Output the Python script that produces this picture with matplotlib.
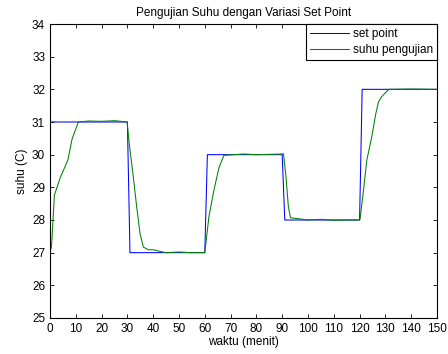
import numpy as np
import matplotlib
matplotlib.use('Agg')
import matplotlib.pyplot as plt

plt.rcParams['font.family'] = ['Liberation Sans', 'DejaVu Sans']

# set point (menit, C)
sp_t = [0, 30, 31, 60, 61, 90, 91, 120, 121, 150]
sp_v = [31, 31, 27, 27, 30, 30, 28, 28, 32, 32]

# suhu pengujian
uji_t = [0, 0.6, 1.7, 4, 6.9, 8.6, 11, 15, 20, 25, 29.9, 30.7, 32.3, 33.6, 34.9, 36.2,
         38.1, 40.1, 42, 45, 50, 55, 60, 61.6, 63.5, 65.5, 67.4, 75, 80, 85,
         90, 90.5, 91.5, 92.4, 93.2, 100, 105, 110, 115, 120, 120.2, 121.5, 122.8,
         124.7, 126.3, 127.3, 128.5, 131.3, 140, 150]
uji_v = [27, 27.2, 28.76, 29.3, 29.83, 30.49, 31, 31.03, 31.02, 31.04, 31.0, 30.34,
         29.32, 28.4, 27.58, 27.17, 27.09, 27.09, 27.05, 27.0, 27.02, 27.0, 27.0, 28.1,
         28.9, 29.6, 29.98, 30.02, 30.0, 30.01, 30.02, 30.03, 29.3, 28.4, 28.07,
         28.0, 28.02, 27.99, 28.0, 28.0, 28.04, 28.9, 29.83, 30.54, 31.26, 31.61, 31.77,
         32.0, 32.01, 32.0]

fig = plt.figure(figsize=(4.48, 3.54), dpi=100)
ax = fig.add_axes([0.1116, 0.1017, 0.8638, 0.8305])
ax.plot(sp_t, sp_v, color='#0000ff', lw=0.75, label='set point')
ax.plot(uji_t, uji_v, color='#008000', lw=0.75, label='suhu pengujian')

ax.set_xlim(0, 150)
ax.set_ylim(25, 34)
ax.set_xticks(np.arange(0, 151, 10))
ax.set_yticks(np.arange(25, 35, 1))
ax.tick_params(direction='in', top=True, right=True, labelsize=8.5, length=3, width=0.6)
for s in ax.spines.values():
    s.set_linewidth(0.8)

ax.set_title('Pengujian Suhu dengan Variasi Set Point', fontsize=8.5)
ax.set_xlabel('waktu (menit)', fontsize=8.5, labelpad=1)
ax.set_ylabel('suhu (C)', fontsize=8.5, labelpad=3)

leg = ax.legend(loc='upper right', fontsize=8.5, fancybox=False, framealpha=1,
                edgecolor='black', borderaxespad=0, handlelength=3.3,
                borderpad=0.35, labelspacing=0.3, handletextpad=0.3)
leg.get_frame().set_linewidth(0.8)

fig.savefig('out.png', dpi=100)
